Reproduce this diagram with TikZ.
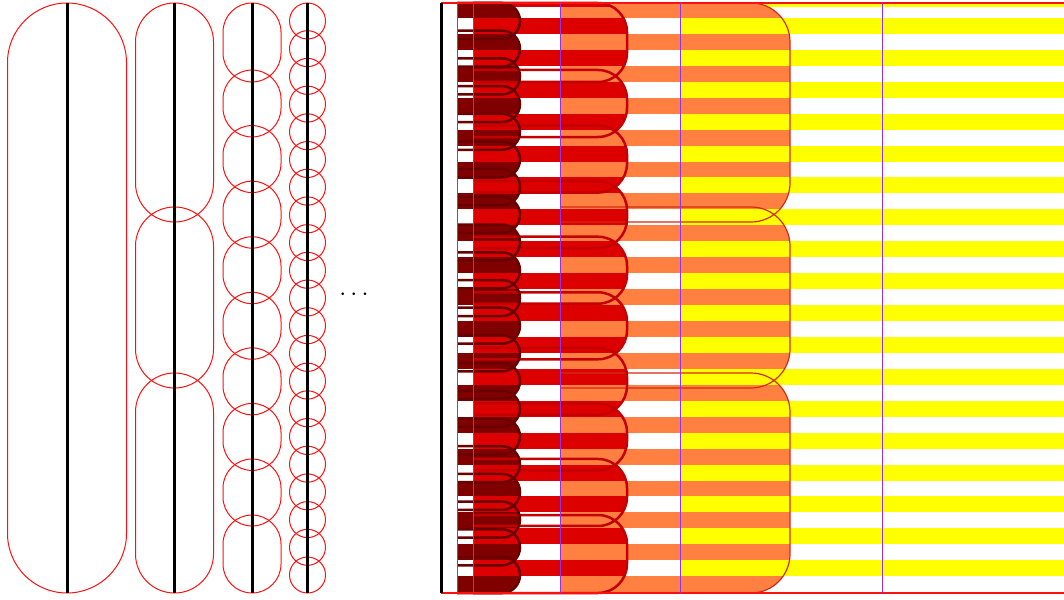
\documentclass[tikz,border=0pt]{standalone}
\usepackage{tikz}

\definecolor{rimred}{HTML}{FF1010}
\definecolor{maroonL}{HTML}{800000}
\definecolor{maroonD}{HTML}{680000}
\definecolor{redL}{HTML}{DD0000}
\definecolor{redD}{HTML}{C40000}
\definecolor{orangeL}{HTML}{FF8040}
\definecolor{orangeD}{HTML}{D42A10}
\definecolor{yellowL}{HTML}{FFFF00}
\definecolor{divviolet}{HTML}{9030F0}

% tube: left x, top y, right x, bottom y, end radius
\newcommand{\tube}[5]{(#1,{#2}) -- ({#3-#5},{#2}) arc[start angle=90, end angle=0, radius=#5pt] -- (#3,{#4-#5}) arc[start angle=0, end angle=-90, radius=#5pt] -- (#1,{#4})}

\begin{document}
\begin{tikzpicture}[
    x=1pt, y=-1pt,
    rim/.style={draw=rimred, line width=1pt},
    spine/.style={draw=black, line width=3pt},
    divider/.style={draw=divviolet, line width=1pt},
    maroonrim/.style={draw=maroonD, line width=2.5pt},
    redrim/.style={draw=redD, line width=2.5pt},
    orangerim/.style={draw=orangeD, line width=1.2pt},
    yellowrim/.style={draw=rimred, line width=1.5pt}
]

    \useasboundingbox (0,0) rectangle (1064,599);

    % Column 1
    \draw[rim, rounded corners=59.5pt] (7.5,3) rectangle (126.5,593);

    % Column 2
    \foreach \t/\b in {3/222, 207/388, 373/593}
        \draw[rim, rounded corners=39pt] (135.5,\t) rectangle (213.5,\b);

    % Column 3
    \draw[rim, rounded corners=29pt] (223,3) rectangle (281,82);
    \foreach \k in {0,...,7}
        \draw[rim, rounded corners=29pt] (223,{70+55.57*\k}) rectangle (281,{137+55.57*\k});
    \draw[rim, rounded corners=29pt] (223,515) rectangle (281,593);

    % Column 4
    \foreach \k in {0,...,20}
        \draw[rim] (307.5,{21+27.7*\k}) circle[radius=18pt];

    % Spines
    \foreach \x in {67,174.5,252,307.5}
        \draw[spine] (\x,3) -- (\x,593);

    % Dots
    \node[scale=2.5] (dots) at (354,295) {$\cdots$};

    % Yellow layer
    \fill[yellowL] (680,3) rectangle (1064,6.7);
    \foreach \k in {1,3,...,35}
        \fill[yellowL] (680,{2+15.95*\k}) rectangle (1064,{2+15.95*(\k+1)});

    % Orange layer
    \begin{scope}
        \clip \tube{560}{3}{790}{222}{39} \tube{560}{207}{790}{388}{39} \tube{560}{373}{790}{593}{39};
        \foreach \k in {0,2,...,36}
            \fill[orangeL] (560,{2+15.95*\k}) rectangle (790,{2+15.95*(\k+1)});
    \end{scope}

    % Red layer
    \begin{scope}
        \clip \tube{473}{3}{627}{82}{29}
            foreach \k in {0,...,7} {\tube{473}{70+55.57*\k}{627}{137+55.57*\k}{29}}
            \tube{473}{515}{627}{593}{29};
        \fill[redL] (473,3) rectangle (627,7.3);
        \foreach \k in {1,3,...,35}
            \fill[redL] (473,{2+15.95*\k}) rectangle (627,{2+15.95*(\k+1)});
    \end{scope}

    % Maroon layer
    \begin{scope}
        \clip foreach \k in {0,...,20} {\tube{457}{3+27.7*\k}{520}{39+27.7*\k}{18}};
        \foreach \k in {0,2,...,36}
            \fill[maroonL] (457,{2+15.95*\k}) rectangle (520,{2+15.95*(\k+1)});
    \end{scope}

    % Outlines
    \draw[orangerim] \tube{560}{3}{790}{222}{39} \tube{560}{207}{790}{388}{39} \tube{560}{373}{790}{593}{39};
    \draw[redrim] \tube{473}{3}{627}{82}{29}
        foreach \k in {0,...,7} {\tube{473}{70+55.57*\k}{627}{137+55.57*\k}{29}}
        \tube{473}{515}{627}{593}{29};
    \draw[maroonrim] foreach \k in {0,...,20} {\tube{457}{3+27.7*\k}{520}{39+27.7*\k}{18}};
    \draw[yellowrim] (441,3) -- (1064,3) (441,593) -- (1064,593);

    % Dividers
    \foreach \x in {457,473,560,680,882}
        \draw[divider] (\x,3) -- (\x,593);
    \draw[spine] (441,3) -- (441,593);

\end{tikzpicture}
\end{document}
